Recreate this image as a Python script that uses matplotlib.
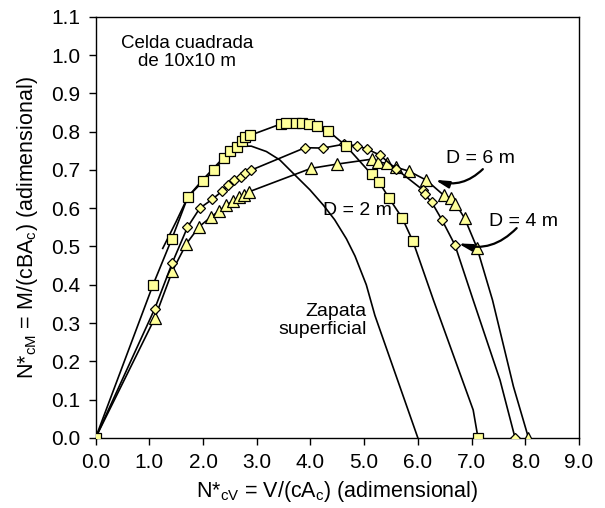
import matplotlib
matplotlib.use("Agg")
import matplotlib.pyplot as plt

plt.rcParams['font.family'] = ['Liberation Sans', 'DejaVu Sans']
plt.rcParams['mathtext.fontset'] = 'custom'
plt.rcParams['mathtext.rm'] = 'Liberation Sans'
plt.rcParams['mathtext.default'] = 'regular'

# D = 2 m (squares); last two vertices before the axis carry no marker
d2_x = [0.0, 1.07, 1.42, 1.72, 2.00, 2.21, 2.39, 2.51, 2.63, 2.72, 2.79, 2.87,
        3.45, 3.55, 3.73, 3.85, 3.98, 4.13, 4.33, 4.66, 5.14, 5.28, 5.46, 5.71,
        5.91, 6.29, 7.03, 7.12]
d2_y = [0.0, 0.40, 0.52, 0.63, 0.67, 0.70, 0.73, 0.75, 0.76, 0.775, 0.785, 0.79,
        0.82, 0.822, 0.823, 0.823, 0.819, 0.815, 0.802, 0.763, 0.688, 0.668, 0.627, 0.574,
        0.513, 0.36, 0.073, 0.0]
d2_plain = [25, 26]

# D = 4 m (diamonds)
d4_x = [0.0, 1.10, 1.43, 1.71, 1.94, 2.17, 2.36, 2.47, 2.58, 2.70, 2.79, 2.89,
        3.90, 4.23, 4.62, 4.87, 5.06, 5.29, 5.60, 6.09, 6.13, 6.26, 6.45, 6.69,
        7.03, 7.53, 7.81]
d4_y = [0.0, 0.337, 0.458, 0.55, 0.60, 0.623, 0.645, 0.661, 0.673, 0.681, 0.691, 0.699,
        0.758, 0.757, 0.767, 0.763, 0.754, 0.739, 0.702, 0.648, 0.636, 0.615, 0.569, 0.504,
        0.36, 0.151, 0.0]
d4_plain = [24, 25]

# D = 6 m (triangles)
d6_x = [0.0, 1.10, 1.43, 1.69, 1.93, 2.14, 2.30, 2.43, 2.56, 2.67, 2.76, 2.86,
        4.01, 4.49, 5.14, 5.26, 5.42, 5.59, 5.83, 6.16, 6.48, 6.61, 6.70, 6.87,
        7.10, 7.39, 7.78, 8.06]
d6_y = [0.0, 0.312, 0.436, 0.507, 0.552, 0.576, 0.593, 0.608, 0.619, 0.628, 0.634, 0.643,
        0.704, 0.715, 0.728, 0.721, 0.717, 0.707, 0.697, 0.673, 0.634, 0.626, 0.612, 0.574,
        0.497, 0.36, 0.134, 0.0]
d6_plain = [25, 26]

# shallow footing envelope (no markers)
zap_x = [1.25, 1.50, 1.72, 2.00, 2.30, 2.58, 2.75, 2.90, 3.18, 3.43, 3.68, 3.99,
         4.24, 4.45, 4.67, 4.83, 5.04, 5.20, 6.00]
zap_y = [0.495, 0.565, 0.63, 0.675, 0.72, 0.752, 0.762, 0.762, 0.748, 0.726, 0.691, 0.648,
         0.608, 0.57, 0.52, 0.475, 0.40, 0.32, 0.0]

x_ticks = [0, 1, 2, 3, 4, 5, 6, 7, 8, 9]
y_ticks = [0.0, 0.1, 0.2, 0.3, 0.4, 0.5, 0.6, 0.7, 0.8, 0.9, 1.0, 1.1]

FACE = '#FFFF99'

fig = plt.figure(figsize=(6.05, 5.08), dpi=100)
ax = fig.add_axes([0.158, 0.138, 0.799, 0.829])


def marked(n, plain):
    return [i for i in range(n) if i not in plain]


ax.plot(zap_x, zap_y, color='black', lw=1.2, zorder=2)
ax.plot(d6_x, d6_y, color='black', lw=1.2, marker='^', ms=8, mfc=FACE, mec='black',
        mew=0.9, markevery=marked(len(d6_x), d6_plain), zorder=3)
ax.plot(d4_x, d4_y, color='black', lw=1.2, marker='D', ms=5.5, mfc=FACE, mec='black',
        mew=0.9, markevery=marked(len(d4_x), d4_plain), zorder=4)
ax.plot(d2_x, d2_y, color='black', lw=1.2, marker='s', ms=7, mfc=FACE, mec='black',
        mew=0.9, markevery=marked(len(d2_x), d2_plain), zorder=5)

ax.set_xlim(0, 9)
ax.set_ylim(0, 1.1)
ax.set_xticks(x_ticks)
ax.set_yticks(y_ticks)
ax.set_xticklabels([f'{v:.1f}' for v in x_ticks])
ax.set_yticklabels([f'{v:.1f}' for v in y_ticks])
ax.tick_params(direction='out', length=5, width=1, labelsize=15, pad=6)
for sp in ax.spines.values():
    sp.set_linewidth(1.0)

ax.set_xlabel(r'N*$_{cV}$ = V/(cA$_c$) (adimensional)', fontsize=15.5, labelpad=5)
ax.set_ylabel(r'N*$_{cM}$ = M/(cBA$_c$) (adimensional)', fontsize=15.5, labelpad=8)

ax.text(1.70, 1.007, 'Celda cuadrada\nde 10x10 m', ha='center', va='center',
        fontsize=13.5, linespacing=1.1)
ax.text(5.05, 0.306, 'Zapata\nsuperficial', ha='right', va='center',
        multialignment='right', fontsize=14, linespacing=1.1)
ax.text(4.87, 0.595, 'D = 2 m', ha='center', va='center', fontsize=14)
ax.text(7.16, 0.730, 'D = 6 m', ha='center', va='center', fontsize=14)
ax.text(7.97, 0.565, 'D = 4 m', ha='center', va='center', fontsize=14)

arrow = dict(arrowstyle='-|>,head_length=0.8,head_width=0.2',
             connectionstyle='arc3,rad=-0.3', color='black', lw=1.6,
             shrinkA=0, shrinkB=0)
ax.annotate('', xy=(6.32, 0.674), xytext=(7.21, 0.702), arrowprops=arrow)
ax.annotate('', xy=(6.75, 0.508), xytext=(7.84, 0.548), arrowprops=arrow)

fig.savefig('out.png', dpi=100)
